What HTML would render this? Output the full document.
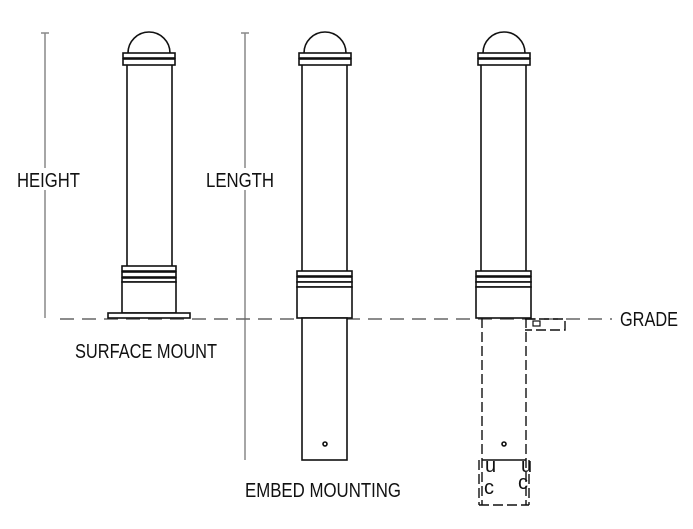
<!DOCTYPE html>
<html><head><style>body{margin:0;background:#fff}svg{display:block}text{font-family:"Liberation Sans",sans-serif;font-size:20px;fill:#111}</style></head>
<body>
<svg width="693" height="529" viewBox="0 0 693 529" xmlns="http://www.w3.org/2000/svg">
<g stroke="#888" stroke-width="1.5" fill="none">
<line x1="45" y1="33" x2="45" y2="318"/><line x1="41" y1="33" x2="49" y2="33"/>
<line x1="245" y1="33" x2="245" y2="460"/><line x1="241" y1="33" x2="249" y2="33"/>
<line x1="60" y1="319" x2="612" y2="319" stroke="#666" stroke-dasharray="14,8"/>
</g>
<rect x="15" y="168" width="68" height="22" fill="#fff"/>
<rect x="204" y="168" width="72" height="22" fill="#fff"/>
<g stroke="#111" stroke-width="1.6" fill="#fff">
<path d="M128 53 A21 21 0 0 1 170 53"/>
<rect x="123" y="53" width="52" height="5"/><rect x="123" y="59" width="52" height="6"/>
<line x1="127" y1="65" x2="127" y2="266"/><line x1="172" y1="65" x2="172" y2="266"/>
<rect x="122" y="266" width="54" height="5"/><rect x="122" y="272" width="54" height="5"/><rect x="122" y="278" width="54" height="4"/>
<rect x="122" y="282" width="54" height="31"/>
<rect x="108" y="313" width="82" height="5"/>
<path d="M304 53 A21 21 0 0 1 346 53"/>
<rect x="299" y="53" width="52" height="5"/><rect x="299" y="59" width="52" height="6"/>
<line x1="302" y1="65" x2="302" y2="271"/><line x1="347" y1="65" x2="347" y2="271"/>
<rect x="297" y="271" width="55" height="5"/><rect x="297" y="277" width="55" height="5"/><rect x="297" y="282" width="55" height="5"/>
<rect x="297" y="287" width="55" height="31"/>
<rect x="302" y="318" width="45" height="142"/>
<circle cx="325" cy="444" r="2"/>
<path d="M483 53 A21 21 0 0 1 525 53"/>
<rect x="478" y="53" width="52" height="5"/><rect x="478" y="59" width="52" height="6"/>
<line x1="481" y1="65" x2="481" y2="271"/><line x1="526" y1="65" x2="526" y2="271"/>
<rect x="476" y="271" width="55" height="5"/><rect x="476" y="277" width="55" height="5"/><rect x="476" y="282" width="55" height="5"/>
<rect x="476" y="287" width="55" height="31"/>
<line x1="482" y1="460" x2="526" y2="460"/>
<circle cx="504" cy="444" r="2"/>
<rect x="533" y="321" width="7" height="5" stroke-width="1.2"/>
</g>
<g stroke="#111" stroke-width="1.4" fill="none" stroke-dasharray="10,4">
<line x1="482" y1="318" x2="482" y2="505"/><line x1="526" y1="318" x2="526" y2="505"/>
<line x1="479" y1="460" x2="479" y2="505"/><line x1="529" y1="460" x2="529" y2="505"/>
<line x1="479" y1="505" x2="529" y2="505"/>
<path d="M525 319 H565 V330 H525"/>
</g>
<text x="485" y="472" font-size="6">u</text><text x="521" y="472" font-size="6">u</text>
<text x="484" y="494" font-size="6">c</text><text x="518" y="489" font-size="6">c</text>
<text x="17" y="187" textLength="63" lengthAdjust="spacingAndGlyphs">HEIGHT</text>
<text x="206" y="187" textLength="68" lengthAdjust="spacingAndGlyphs">LENGTH</text>
<text x="75" y="358" textLength="142" lengthAdjust="spacingAndGlyphs">SURFACE MOUNT</text>
<text x="245" y="497" textLength="156" lengthAdjust="spacingAndGlyphs">EMBED MOUNTING</text>
<text x="620" y="326" textLength="58" lengthAdjust="spacingAndGlyphs">GRADE</text>
</svg>
</body></html>
